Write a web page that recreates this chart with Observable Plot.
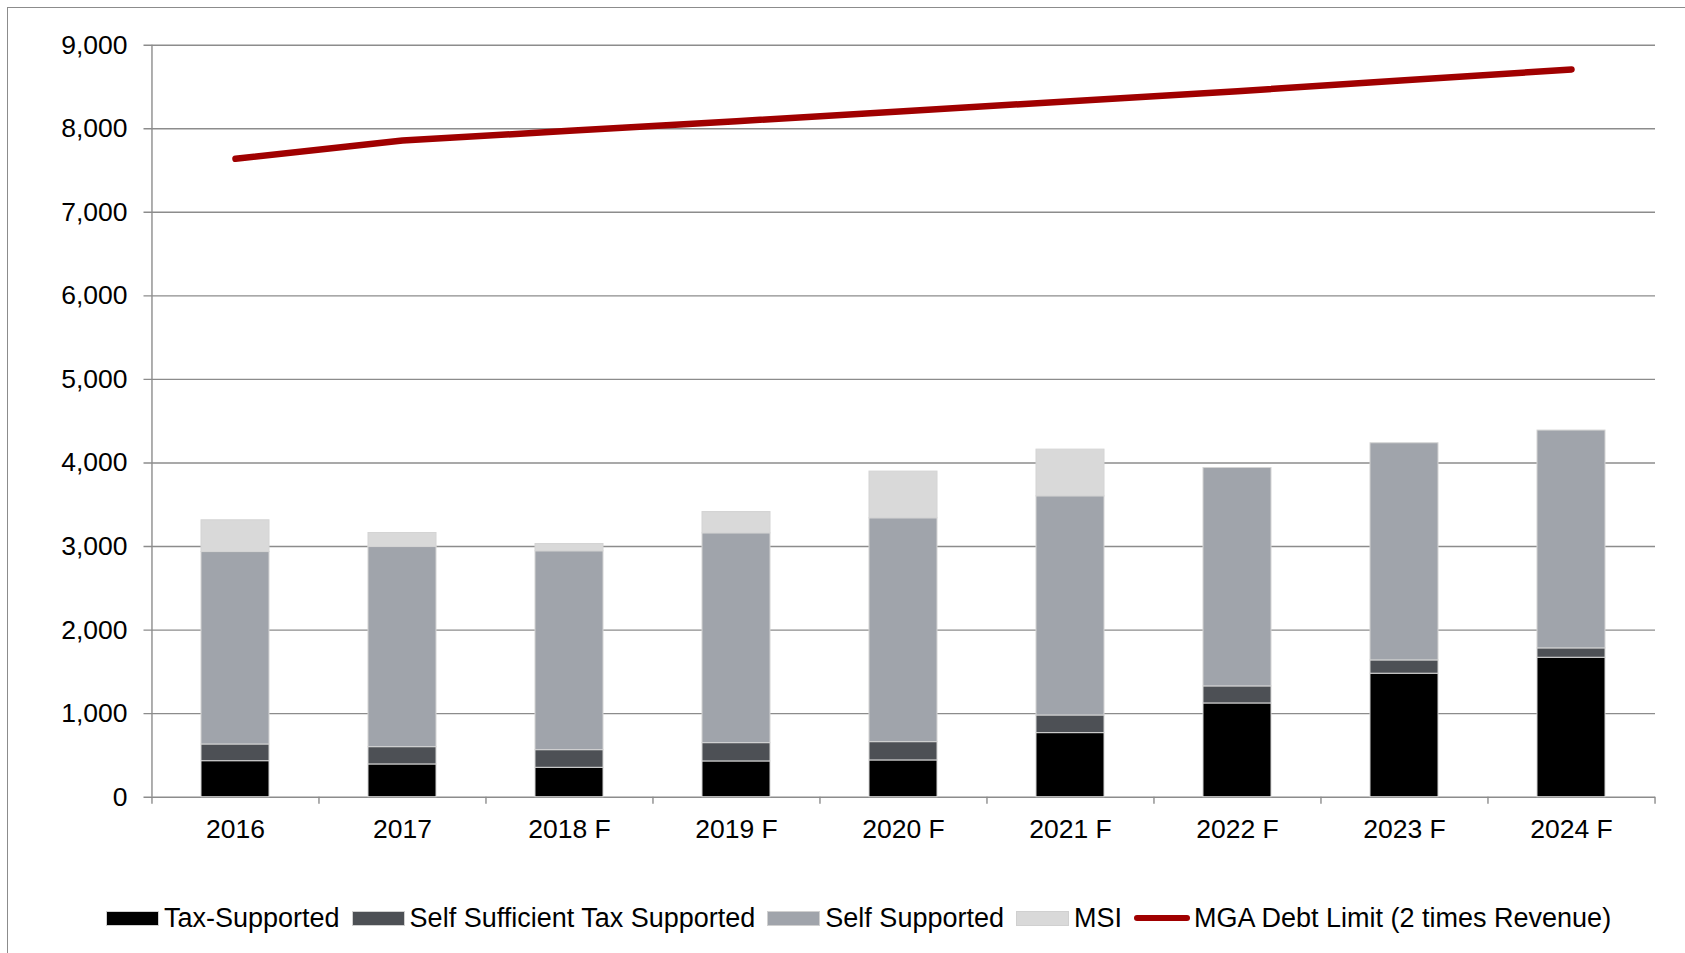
<!DOCTYPE html>
<html>
<head>
<meta charset="utf-8">
<script src="https://cdn.jsdelivr.net/npm/d3@7"></script>
<script src="https://cdn.jsdelivr.net/npm/@observablehq/plot@0.6"></script>
<style>
  html, body { margin: 0; padding: 0; background: #fff; width: 1685px; height: 953px; overflow: hidden; }
  body { position: relative; font-family: "Liberation Sans", Arial, sans-serif; }
  #frame { position: absolute; left: 7px; top: 7px; width: 1720px; height: 1000px; border-left: 1.5px solid #8c8c8c; border-top: 1.5px solid #8c8c8c; }
  #chart { position: absolute; left: 0; top: 0; }
  #legend { position: absolute; left: 106px; top: 900px; height: 36px; display: flex; align-items: center; font-size: 27px; color: #000; white-space: nowrap; }
  .item { display: flex; align-items: center; margin-right: 12px; }
  .sw { width: 53px; height: 15px; margin-right: 5px; box-sizing: border-box; border: 1px solid #d0d0d0; }
  .ln { width: 56px; height: 6px; border-radius: 3px; margin-right: 4px; }
</style>
</head>
<body>
<div id="frame"></div>
<div id="chart"></div>
<div id="legend"></div>
<script>
// ---- data ----
const years = ["2016", "2017", "2018 F", "2019 F", "2020 F", "2021 F", "2022 F", "2023 F", "2024 F"];
const seriesNames = ["Tax-Supported", "Self Sufficient Tax Supported", "Self Supported", "MSI"];
const taxSupported = [431, 392, 352, 428, 440, 767, 1122, 1478, 1669];
const selfSufficient = [200, 207, 211, 219, 219, 211, 204, 159, 112];
const selfSupported = [2303, 2395, 2380, 2511, 2679, 2623, 2614, 2599, 2607];
const msi = [380, 168, 87, 255, 559, 559, 0, 0, 0];
const lineName = "MGA Debt Limit (2 times Revenue)";
const debtLimit = [7640, 7860, 7975, 8090, 8210, 8330, 8450, 8580, 8710];
const yTicks = [0, 1000, 2000, 3000, 4000, 5000, 6000, 7000, 8000, 9000];

// ---- styles ----
const seriesColors = ["#000000", "#4d5055", "#a0a4ab", "#d9d9d9"];
const lineColor = "#a00000";
const gridColor = "#8c8c8c";

// ---- build tables ----
const seriesValues = [taxSupported, selfSufficient, selfSupported, msi];
const barData = [];
seriesNames.forEach((s, si) => years.forEach((y, i) => barData.push({year: y, series: s, value: seriesValues[si][i]})));
const lineData = years.map((y, i) => ({year: y, value: debtLimit[i]}));

const W = 1685, H = 870;
const mL = 151.5, mR = 30, mT = 44.7, mB = 73.3;
const plotW = W - mL - mR, plotH = H - mT - mB;
const step = plotW / years.length;

const chart = Plot.plot({
  width: W,
  height: H,
  marginLeft: mL,
  marginRight: mR,
  marginTop: mT,
  marginBottom: mB,
  style: {fontFamily: "'Liberation Sans', Arial, sans-serif", fontSize: "26.5px", color: "#000", background: "transparent", overflow: "visible"},
  x: {domain: years, paddingInner: 0.59, paddingOuter: 0.295, axis: null, label: null},
  y: {domain: [0, 9000], axis: null, label: null},
  color: {domain: seriesNames, range: seriesColors},
  marks: [
    Plot.ruleY(yTicks, {stroke: gridColor, strokeWidth: 1.4, insetLeft: -8}),
    Plot.ruleX([years[0]], {stroke: gridColor, strokeWidth: 1.4, dx: -step / 2}),
    Plot.ruleX(years, {stroke: gridColor, strokeWidth: 1.4, dx: -step / 2, insetTop: plotH, insetBottom: -7}),
    Plot.ruleX([years[years.length - 1]], {stroke: gridColor, strokeWidth: 1.4, dx: step / 2, insetTop: plotH, insetBottom: -7}),
    Plot.barY(barData, {x: "year", y: "value", fill: "series", order: seriesNames, stroke: "#d4d4d4", strokeWidth: 1}),
    Plot.line(lineData, {x: "year", y: "value", stroke: lineColor, strokeWidth: 6.5, strokeLinecap: "round", strokeLinejoin: "round"}),
    Plot.axisY(yTicks, {tickSize: 0, tickPadding: 24.5, tickFormat: d3.format(","), label: null}),
    Plot.axisX({tickSize: 0, tickPadding: 22, label: null})
  ]
});
document.getElementById("chart").appendChild(chart);

// ---- legend ----
const legend = document.getElementById("legend");
seriesNames.forEach((s, i) => {
  const it = document.createElement("div");
  it.className = "item";
  const sw = document.createElement("div");
  sw.className = "sw";
  sw.style.background = seriesColors[i];
  const t = document.createElement("span");
  t.textContent = s;
  it.appendChild(sw); it.appendChild(t);
  legend.appendChild(it);
});
{
  const it = document.createElement("div");
  it.className = "item";
  const ln = document.createElement("div");
  ln.className = "ln";
  ln.style.background = lineColor;
  const t = document.createElement("span");
  t.textContent = lineName;
  it.appendChild(ln); it.appendChild(t);
  legend.appendChild(it);
}
</script>
</body>
</html>
